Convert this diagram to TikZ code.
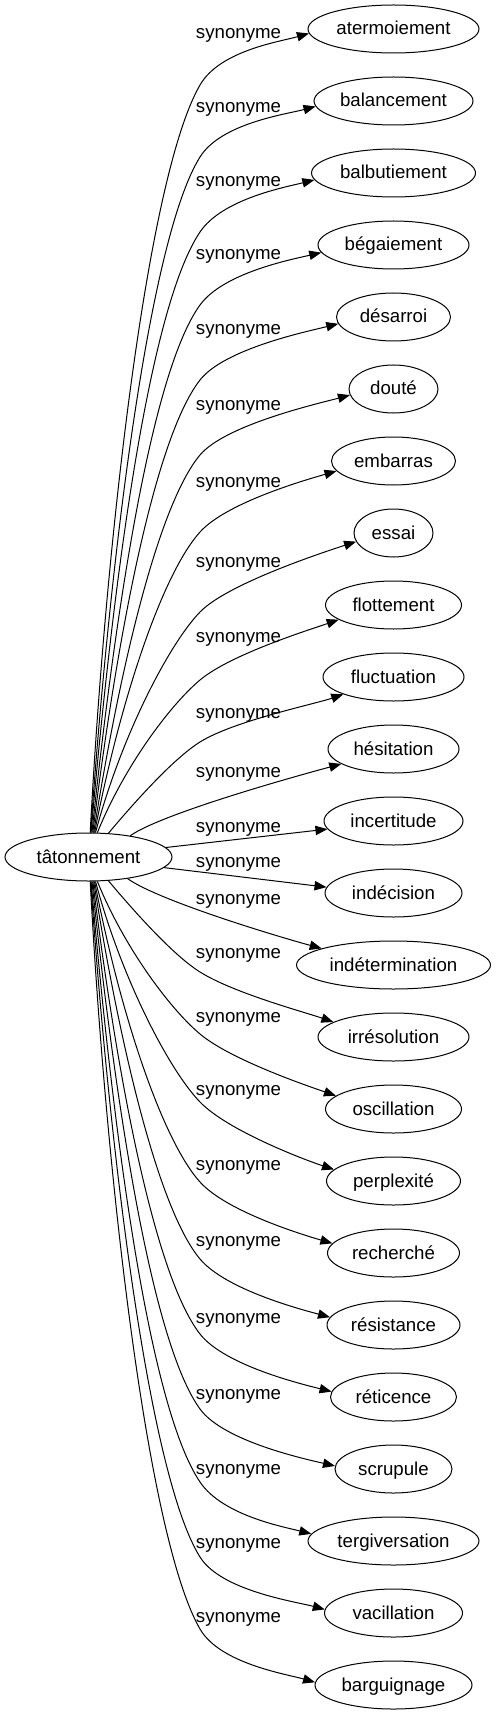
\documentclass[tikz,border=0pt]{standalone}
\usepackage{fontspec}
\setmainfont{Liberation Sans}
\usetikzlibrary{arrows.meta,calc,shapes.geometric}
% top edge: #1 node, #2 knee y, #3 knee angle, #4 start angle, #5 start ctrl len, #6 knee ctrl len, #7 end angle, #8 target anchor, #9 source anchor
\newcommand\edgeT[9]{%
  \draw[edge] (t.#9) .. controls ($(t.#9)+(-#4:#5)$) and ($(200,#2)+(180-#3:#6)$) .. (200,#2)
    .. controls ($(200,#2)+(-#3:40)$) and ($(#1.#8)+(180-#7:30)$) .. (#1.#8);}
\newcommand\edgeB[9]{%
  \draw[edge] (t.#9) .. controls ($(t.#9)+(#4:#5)$) and ($(200,#2)+(180+#3:#6)$) .. (200,#2)
    .. controls ($(200,#2)+(#3:40)$) and ($(#1.#8)+(180+#7:30)$) .. (#1.#8);}
\begin{document}
\begin{tikzpicture}[x=0.75pt,y=-0.75pt,
  every node/.style={font=\fontsize{14pt}{16pt}\selectfont, text height=11.5pt, text depth=2.5pt, inner sep=0pt},
  word/.style={ellipse, draw, line width=0.75pt, minimum height=36pt, minimum width=#1*0.75pt},
  edge/.style={line width=0.75pt, -{Triangle[length=9pt,width=7pt]}}]
\useasboundingbox (0,0) rectangle (496,1715);
\node[word=167] (t) at (88.5,857) {tâtonnement};
\foreach \w/\txt [count=\i from 0] in {171/atermoiement,159/balancement,164/balbutiement,151/bégaiement,
  114/désarroi,89/douté,124/embarras,79/essai,136/flottement,141/fluctuation,131/hésitation,
  139/incertitude,137/indécision,194/indétermination,151/irrésolution,136/oscillation,
  134/perplexité,132/recherché,133/résistance,126/réticence,117/scrupule,171/tergiversation,
  138/vacillation,157/barguignage}
  \node[word=\w] (n\i) at (393.5,{29+72*\i}) {\txt};
\foreach \L [count=\i from 0] in {33,107,181,254,329,405,482,562,637,713,772,827,862,899,953,
  1017,1090,1165,1241,1318,1394,1469,1543,1617}
  \node (l\i) at (238.5,\L-0.5) {synonyme};
\edgeT{n0}{85}{60}{87}{270}{110}{16}{183}{86}
\edgeT{n1}{157}{58}{86}{255}{100}{15}{184}{85}
\edgeT{n2}{232}{56}{85}{235}{95}{14}{185}{84}
\edgeT{n3}{305}{54}{84}{210}{85}{13}{186}{82}
\edgeT{n4}{380}{52}{83}{190}{75}{14}{187}{80}
\edgeT{n5}{455}{50}{81}{165}{65}{15}{188}{78}
\edgeT{n6}{532}{48}{79}{140}{55}{16}{190}{76}
\edgeT{n7}{612}{46}{75}{100}{45}{18}{193}{74}
\edgeT{n8}{680}{40}{68}{70}{40}{19}{195}{70}
\edgeT{n9}{742}{32}{50}{45}{30}{19}{199}{50}
\draw[edge] (t.27) .. controls ($(t.27)+(-35:40)$) and ($(n10.196)+(165:40)$) .. (n10.196);
\draw[edge] (t.7) -- (n11.187);
\draw[edge] (t.352) -- (n12.175);
\draw[edge] (t.331) .. controls ($(t.331)+(35:40)$) and ($(n13.167)+(195:40)$) .. (n13.167);
\edgeB{n14}{972}{32}{50}{45}{30}{19}{166}{310}
\edgeB{n15}{1034}{40}{68}{70}{40}{19}{167}{290}
\edgeB{n16}{1102}{46}{75}{100}{45}{18}{169}{286}
\edgeB{n17}{1182}{48}{79}{140}{55}{16}{171}{284}
\edgeB{n18}{1259}{50}{81}{165}{65}{15}{173}{282}
\edgeB{n19}{1334}{52}{83}{190}{75}{14}{175}{280}
\edgeB{n20}{1409}{54}{84}{210}{85}{13}{177}{278}
\edgeB{n21}{1482}{56}{85}{235}{95}{14}{175}{276}
\edgeB{n22}{1557}{58}{86}{255}{100}{15}{177}{275}
\edgeB{n23}{1629}{60}{87}{270}{110}{16}{178}{274}
\end{tikzpicture}
\end{document}
